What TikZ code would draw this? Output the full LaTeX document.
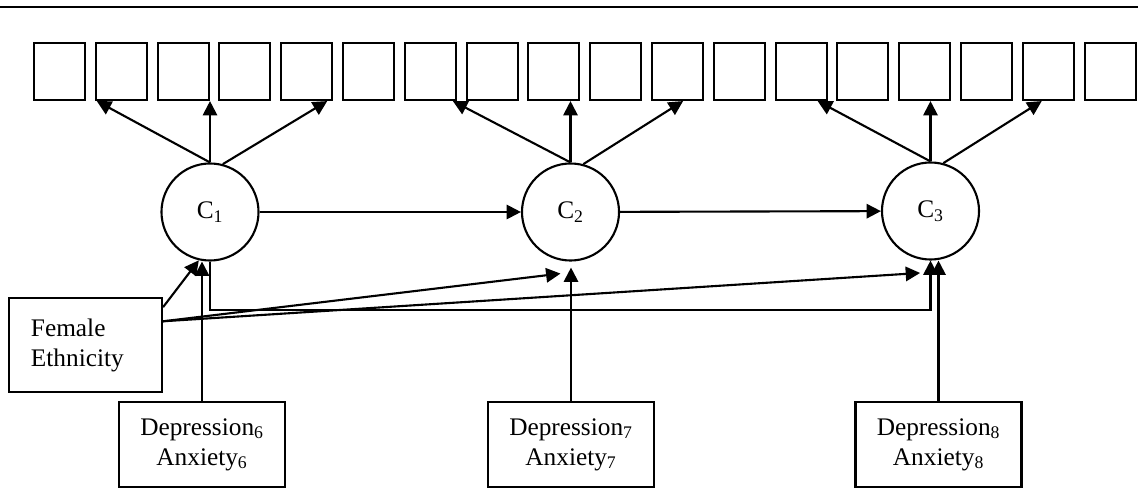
\documentclass[tikz,border=0pt]{standalone}
\usepackage{fontspec}
\setmainfont{Liberation Serif}
\usetikzlibrary{arrows.meta}

\begin{document}
\begin{tikzpicture}[x=0.025cm, y=-0.025cm, line width=1.5pt,
                    ind_style/.style={rectangle, draw, inner sep=0pt, minimum width=1.275cm, minimum height=1.425cm},
                    lat_style/.style={circle, draw, inner sep=0pt, minimum size=2.425cm, font=\fontsize{18}{22}\selectfont},
                    cov_style/.style={rectangle, draw, align=center, minimum width=4.15cm, minimum height=2.125cm, font=\fontsize{18}{21.3}\selectfont},
                    fem_style/.style={rectangle, draw, align=left, text width=2.725cm, inner xsep=0.55cm, minimum height=2.35cm, font=\fontsize{18}{21.3}\selectfont},
                    edge_style/.style={draw=black, -{Triangle[length=0.36cm, width=0.36cm]}}]
                    \useasboundingbox (0, 0) rectangle (1138, 491);
                    \draw[line width=1.8pt] (0, 7) -- (1138, 7);
                    \foreach \i in {1,...,18}
                        \node[ind_style] (ind\i) at ({59.5+61.8*(\i-1)}, 71.5) {};
                    \node[lat_style] (c1) at (210, 212) {C\textsubscript{1}};
                    \node[lat_style] (c2) at (570.5, 212) {C\textsubscript{2}};
                    \node[lat_style] (c3) at (930.5, 211) {C\textsubscript{3}};
                    \node[fem_style] (fem) at (85.5, 345) {Female\\Ethnicity};
                    \node[cov_style] (dep6) at (202, 444.5) {Depression\textsubscript{6}\\Anxiety\textsubscript{6}};
                    \node[cov_style] (dep7) at (571, 444.5) {Depression\textsubscript{7}\\Anxiety\textsubscript{7}};
                    \node[cov_style] (dep8) at (938.5, 444.5) {Depression\textsubscript{8}\\Anxiety\textsubscript{8}};
                    \coordinate (c2_in) at ([xshift=-0.25cm, yshift=-0.3cm]c2.south);
                    \coordinate (c3_in) at ([xshift=-0.26cm, yshift=-0.31cm]c3.south);
                    % loadings
                    \draw[edge_style] (c1.north) -- ([xshift=0.05cm]ind2.south west);
                    \draw[edge_style] (c1.north) -- (c1.north |- ind3.south);
                    \draw[edge_style] (c1.75) -- ([xshift=-0.15cm]ind5.south east);
                    \draw[edge_style] (c2.north) -- ([xshift=-0.1cm]ind7.south east);
                    \draw[edge_style] (c2.north) -- (c2.north |- ind9.south);
                    \draw[edge_style] (c2.75) -- ([xshift=0.14cm]ind11.south);
                    \draw[edge_style] (c3.north) -- ([xshift=-0.25cm]ind13.south east);
                    \draw[edge_style] (c3.north) -- (c3.north |- ind15.south);
                    \draw[edge_style] (c3.75) -- ([xshift=0.5cm]ind17.south west);
                    % paths between classes
                    \draw[edge_style] (c1) edge (c2);
                    \draw[edge_style] (c2) edge (c3);
                    \draw[edge_style] (c1.south) -- ++(0, 48) -| (c3.south);
                    % covariates
                    \draw[edge_style] (fem.26) -- (c1.257);
                    \draw[edge_style] (fem.17) -- (c2_in);
                    \draw[edge_style] (fem.17) -- (c3_in);
                    \draw[edge_style] (dep6.north) -- (dep6.north |- c1.south);
                    \draw[edge_style, shorten >=0.15cm] (dep7.north) -- (dep7.north |- c2.south);
                    \draw[edge_style] (dep8.north) -- (dep8.north |- c3.south);
                \end{tikzpicture}
\end{document}
